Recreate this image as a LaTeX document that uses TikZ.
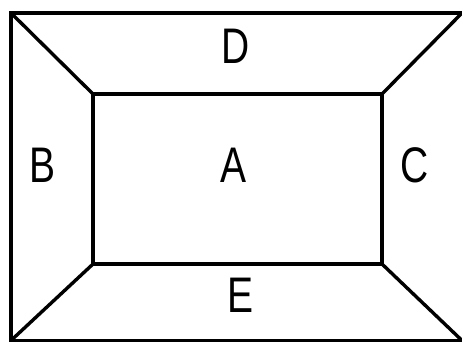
\documentclass[tikz,border=0pt]{standalone}
\usepackage{fontspec}
\setmainfont{Liberation Sans}[FakeStretch=0.78]
\usepackage{tikz}

\begin{document}
\begin{tikzpicture}[x=1pt,y=-1pt,line width=3.4pt,line join=miter]
  \tikzset{lbl/.style={font=\fontsize{50}{50}\selectfont, inner sep=0pt}}
  \useasboundingbox (0,0) rectangle (462,341);
  % frame and inner box
  \draw (462,13) -- (11,13) -- (11,340.5) -- (462,340.5);
  \draw (93,94) rectangle (382,264);
  % corner lines
  \draw (11,13) -- (93,94);
  \draw (462,13) -- (382,94);
  \draw (11,340.5) -- (93,264);
  \draw (462,340.5) -- (382,264);
  % labels
  \node[lbl] (A) at (233.5,165) {A};
  \node[lbl] (B) at (42.5,165) {B};
  \node[lbl] (C) at (414.5,165) {C};
  \node[lbl] (D) at (235.5,46.5) {D};
  \node[lbl] (E) at (241,295) {E};
\end{tikzpicture}
\end{document}
